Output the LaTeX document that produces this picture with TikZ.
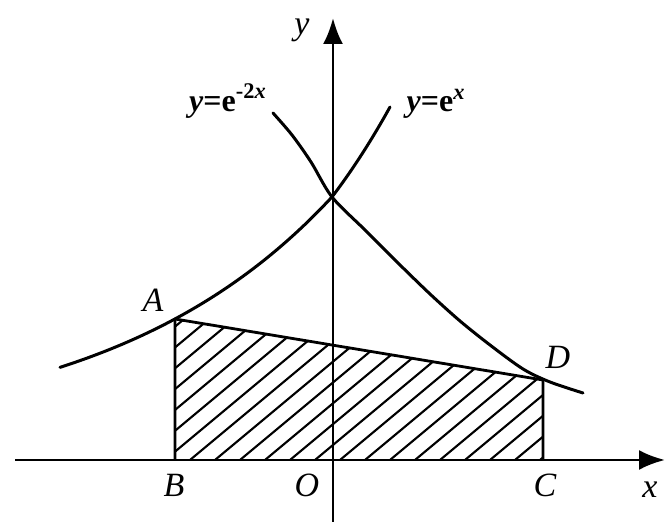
\documentclass[tikz,border=0pt]{standalone}
\usepackage{fontspec}
\setmainfont{Liberation Serif}
\usetikzlibrary{arrows.meta}
\begin{document}
\begin{tikzpicture}[x=0.5pt,y=-0.5pt,
  curve/.style={line width=1.5pt, line cap=round},
  axisline/.style={line width=1.4pt,-{Latex[length=13pt,width=10pt]}},
  hatchline/.style={line width=1.05pt},
  edge/.style={line width=1.4pt, line join=round},
  lbl/.style={font=\fontsize{17}{17}\selectfont\itshape, inner sep=0pt},
  flbl/.style={font=\fontsize{16}{16}\selectfont\bfseries, inner sep=0pt}]
\useasboundingbox (0,0) rectangle (666,522);
% key points
\coordinate (A) at (175,319);
\coordinate (B) at (175,460);
\coordinate (C) at (543,460);
\coordinate (D) at (543,380);
\coordinate (xs) at (15,460);
\coordinate (xe) at (665,460);
\coordinate (ys) at (333,522);
\coordinate (ye) at (333,18);
% hatching
\begin{scope}
  \clip (A) -- (D) -- (C) -- (B) -- cycle;
  \foreach \i in {-185,-160,...,540} \draw[hatchline] (\i,460) -- ++(300,-250);
\end{scope}
\draw[edge] (B) -- (A) -- (D) -- (C);
% axes
\draw[axisline] (xs) -- (xe);
\draw[axisline] (ys) -- (ye);
% curve y = e^x
\draw[curve] plot[domain=60:332, samples=50] (\x, {440-243*exp(0.00444*(\x-332))})
  -- plot[domain=332:390, samples=20] (\x, {440-243*exp(0.00543*(\x-332))});
% curve y = e^{-2x}
\draw[curve] plot[smooth] coordinates {(273,113) (292,135) (311,162) (332,197) (365,230) (397,262) (430,294) (460,321) (490,345) (523,369) (550,382) (583,393)};
% labels
\node[lbl] (lA) at (153,300) {A};
\node[lbl] (lB) at (174,485) {B};
\node[lbl] (lO) at (307,485) {O};
\node[lbl] (lC) at (545,485) {C};
\node[lbl] (lD) at (558,357) {D};
\node[lbl] (lx) at (650,490) {x};
\node[lbl] (ly) at (302,30) {y};
\node[flbl] (f2) at (228,101) {\textit{y}=e\textsuperscript{-2\textit{x}}};
\node[flbl] (f1) at (436,104) {\textit{y}=e\textsuperscript{\textit{x}}};
\end{tikzpicture}
\end{document}
